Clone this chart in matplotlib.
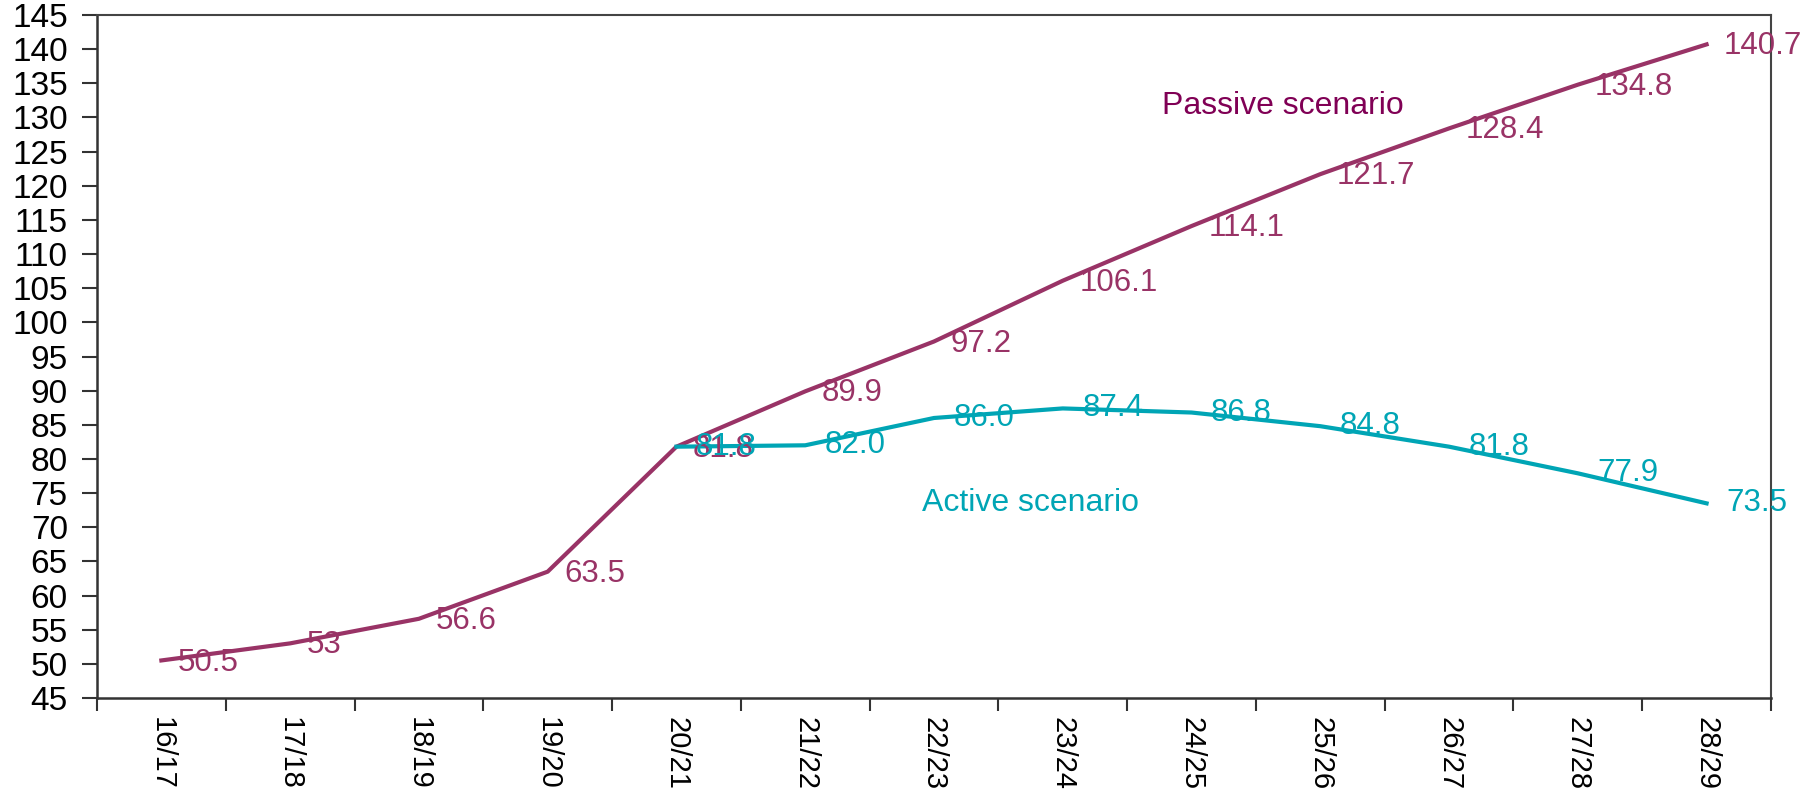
import numpy as np
import matplotlib.pyplot as plt

plt.rcParams['font.family'] = ['Liberation Sans', 'DejaVu Sans']

# datos del grafico
years = ['16/17', '17/18', '18/19', '19/20', '20/21', '21/22', '22/23',
         '23/24', '24/25', '25/26', '26/27', '27/28', '28/29']
passive = [50.5, 53, 56.6, 63.5, 81.8, 89.9, 97.2, 106.1, 114.1, 121.7, 128.4, 134.8, 140.7]
passive_labels = ['50.5', '53', '56.6', '63.5', '81.8', '89.9', '97.2', '106.1',
                  '114.1', '121.7', '128.4', '134.8', '140.7']
active = [np.nan, np.nan, np.nan, np.nan, 81.8, 82.0, 86.0, 87.4, 86.8, 84.8, 81.8, 77.9, 73.5]

c_passive = '#993366'
c_passive_txt = '#800055'
c_active = '#00A5B5'

fig = plt.figure(figsize=(18.06, 7.95), dpi=100)
ax = fig.add_axes([0.0537, 0.122, 0.9269, 0.8591])

x = np.arange(len(years)) + 0.5
ax.plot(x, passive, color=c_passive, lw=3, zorder=3)
ax.plot(x, active, color=c_active, lw=3, zorder=3)

for xi, v, t in zip(x, passive, passive_labels):
    ax.annotate(t, (xi, v), xytext=(12, -1.5), textcoords='offset points',
                ha='left', va='center', fontsize=22.5, color=c_passive, zorder=4)
for xi, v in zip(x, active):
    if np.isnan(v):
        continue
    ax.annotate(f'{v:.1f}', (xi, v), xytext=(14, 0), textcoords='offset points',
                ha='left', va='center', fontsize=22.5, color=c_active, zorder=5)

ax.text(8.27, 131.7, 'Passive scenario', fontsize=23, color=c_passive_txt,
        ha='left', va='center')
ax.text(6.41, 73.6, 'Active scenario', fontsize=23, color=c_active,
        ha='left', va='center')

ax.set_xlim(0, len(years))
ax.set_ylim(45, 145)
ax.set_yticks(np.arange(45, 146, 5))
ax.set_xticks(np.arange(0, len(years) + 1))
ax.set_xticklabels([])
ax.set_xticks(x, minor=True)
ax.set_xticklabels(years, minor=True, rotation=-90, fontsize=21)
ax.tick_params(axis='x', which='major', direction='out', length=9, width=1.5, color='#333333')
ax.tick_params(axis='x', which='minor', length=0, pad=14)
ax.tick_params(axis='y', direction='out', length=11, width=1.5, color='#333333',
               labelsize=24, pad=10)

for s in ['left', 'bottom']:
    ax.spines[s].set_color('#333333')
    ax.spines[s].set_linewidth(1.8)
for s in ['top', 'right']:
    ax.spines[s].set_color('#444444')
    ax.spines[s].set_linewidth(1.5)

fig.savefig('out.png', dpi=100)
